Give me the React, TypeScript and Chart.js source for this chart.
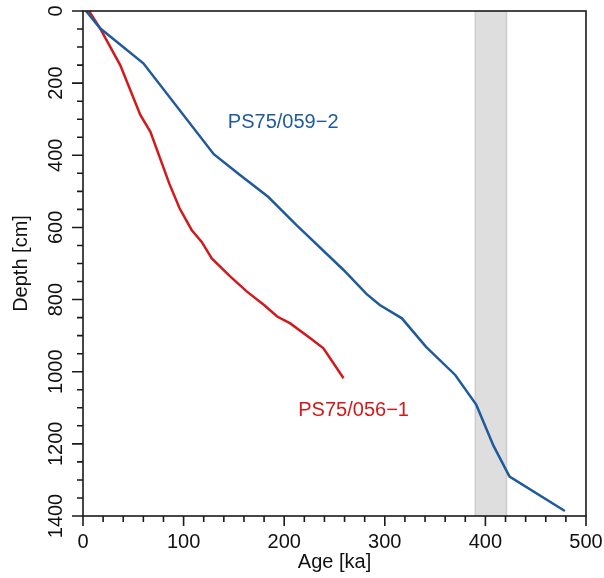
import React, { useEffect, useRef } from "react";
import { Chart, registerables } from "chart.js";

Chart.register(...registerables);

// PS75/059-2 (blue)
const core059Age = [3, 17, 60, 130, 157, 184, 212, 259, 282, 295, 317, 341, 370, 391, 408, 424, 479];
const core059Depth = [0, 48, 145, 397, 457, 515, 593, 718, 785, 815, 852, 931, 1009, 1092, 1205, 1291, 1386];

// PS75/056-1 (red)
const core056Age = [6, 17, 37, 57, 67, 86, 96, 108, 118, 128, 146, 163, 180, 193, 206, 226, 239, 259];
const core056Depth = [0, 48, 150, 288, 335, 480, 547, 607, 640, 686, 735, 778, 815, 847, 866, 907, 935, 1018];

const core059Label = "PS75/059\u22122";
const core056Label = "PS75/056\u22121";

// shaded age interval [ka]
const bandAge = [390, 421];

const xTickLabels = [0, 100, 200, 300, 400, 500];
const yTickLabels = [0, 200, 400, 600, 800, 1000, 1200, 1400];
const xTitle = "Age [ka]";
const yTitle = "Depth [cm]";

const FONT = '20px "Liberation Sans", Arial, Helvetica, sans-serif';
const BLUE = "#1f5b9c";
const RED = "#d2191c";

export default function App() {
  const ref = useRef<HTMLCanvasElement | null>(null);

  useEffect(() => {
    if (!ref.current) return;
    const pts = (a: number[], d: number[]) => a.map((x, i) => ({ x, y: d[i] }));

    const decor = {
      id: "decor",
      beforeDatasetsDraw(chart: any) {
        const { ctx, chartArea, scales } = chart;
        const xs = scales.x;
        const x0 = xs.getPixelForValue(bandAge[0]);
        const x1 = xs.getPixelForValue(bandAge[1]);
        ctx.save();
        ctx.fillStyle = "#dedede";
        ctx.fillRect(x0, chartArea.top, x1 - x0, chartArea.bottom - chartArea.top);
        ctx.strokeStyle = "#cdcdcd";
        ctx.lineWidth = 1.5;
        ctx.beginPath();
        ctx.moveTo(x0, chartArea.top);
        ctx.lineTo(x0, chartArea.bottom);
        ctx.moveTo(x1, chartArea.top);
        ctx.lineTo(x1, chartArea.bottom);
        ctx.stroke();
        ctx.restore();
      },
      afterDraw(chart: any) {
        const { ctx, chartArea, scales } = chart;
        const xs = scales.x;
        const ys = scales.y;
        const { left, right, top, bottom } = chartArea;
        ctx.save();
        ctx.strokeStyle = "#1a1a1a";
        ctx.lineWidth = 1.6;
        ctx.strokeRect(left, top, right - left, bottom - top);
        ctx.beginPath();
        for (let v = 0; v <= 500; v += 20) {
          const px = xs.getPixelForValue(v);
          const len = v % 100 === 0 ? 10 : 6;
          ctx.moveTo(px, bottom);
          ctx.lineTo(px, bottom + len);
        }
        for (let v = 0; v <= 1400; v += 50) {
          const py = ys.getPixelForValue(v);
          const len = v % 200 === 0 ? 11 : 6;
          ctx.moveTo(left, py);
          ctx.lineTo(left - len, py);
        }
        ctx.stroke();

        ctx.font = FONT;
        ctx.fillStyle = "#111";
        ctx.textAlign = "center";
        ctx.textBaseline = "alphabetic";
        xTickLabels.forEach((v) => {
          ctx.fillText(String(v), xs.getPixelForValue(v), 548);
        });
        yTickLabels.forEach((v) => {
          ctx.save();
          ctx.translate(61.5, ys.getPixelForValue(v));
          ctx.rotate(-Math.PI / 2);
          ctx.fillText(String(v), 0, 0);
          ctx.restore();
        });
        ctx.fillText(xTitle, (left + right) / 2, 568);
        ctx.save();
        ctx.translate(26.5, (top + bottom) / 2);
        ctx.rotate(-Math.PI / 2);
        ctx.fillText(yTitle, 0, 0);
        ctx.restore();

        ctx.textAlign = "left";
        ctx.fillStyle = BLUE;
        ctx.fillText(core059Label, xs.getPixelForValue(144), ys.getPixelForValue(324));
        ctx.fillStyle = RED;
        ctx.fillText(core056Label, xs.getPixelForValue(214), ys.getPixelForValue(1123));
        ctx.restore();
      },
    };

    const chart = new Chart(ref.current, {
      type: "line",
      data: {
        datasets: [
          {
            label: core059Label,
            data: pts(core059Age, core059Depth),
            borderColor: BLUE,
            borderWidth: 2.5,
            pointRadius: 0,
            tension: 0,
            fill: false,
          },
          {
            label: core056Label,
            data: pts(core056Age, core056Depth),
            borderColor: RED,
            borderWidth: 2.5,
            pointRadius: 0,
            tension: 0,
            fill: false,
          },
        ],
      },
      options: {
        responsive: false,
        animation: false,
        layout: { padding: { left: 0, top: 11, right: 18, bottom: 0 } },
        plugins: { legend: { display: false }, tooltip: { enabled: false } },
        scales: {
          x: {
            type: "linear",
            min: 0,
            max: 500,
            ticks: { display: false },
            grid: { display: false },
            border: { display: false },
            afterFit: (s: any) => {
              s.height = 62;
            },
          },
          y: {
            type: "linear",
            min: 0,
            max: 1400,
            reverse: true,
            ticks: { display: false },
            grid: { display: false },
            border: { display: false },
            afterFit: (s: any) => {
              s.width = 83;
            },
          },
        },
      },
      plugins: [decor],
    });
    return () => chart.destroy();
  }, []);

  return (
    <div style={{ position: "absolute", left: 0, top: 0, width: 604, height: 578, background: "#fff" }}>
      <canvas ref={ref} width={604} height={578} />
    </div>
  );
}
